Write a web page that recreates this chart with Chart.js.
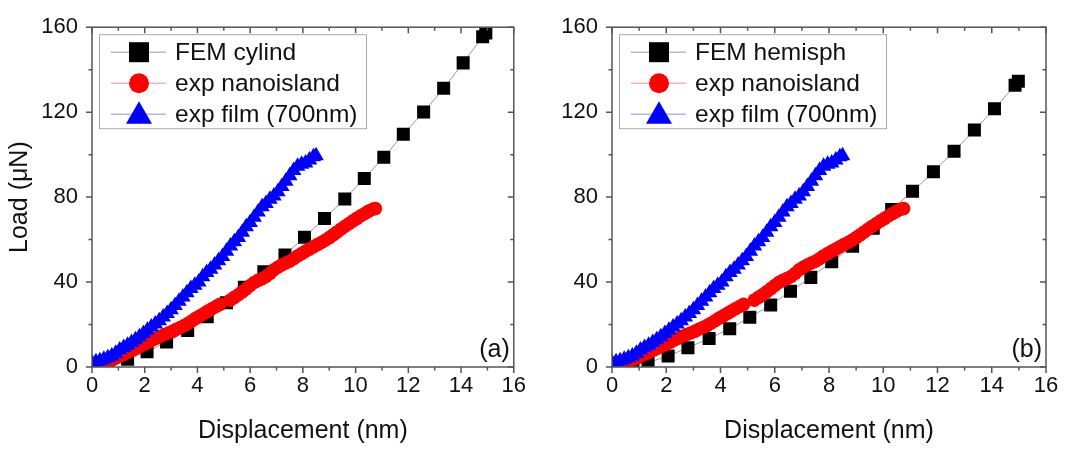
<!DOCTYPE html>
<html>
<head>
<meta charset="utf-8">
<script src="https://cdn.jsdelivr.net/npm/chart.js@4.4.1/dist/chart.umd.min.js"></script>
<style>
  body { margin: 0; background: #fff; }
  #wrap { position: relative; width: 1065px; height: 450px; }
  canvas { position: absolute; top: 0; }
</style>
</head>
<body>
<div id="wrap">
  <canvas id="panelA" width="532" height="450" style="left:0"></canvas>
  <canvas id="panelB" width="533" height="450" style="left:532px"></canvas>
</div>
<script>
// FEM, cylindrical indenter (panel a)
const femCylX = [0.6, 1.35, 2.09, 2.83, 3.63, 4.37, 5.10, 5.78, 6.52, 7.32, 8.06, 8.82, 9.59, 10.33, 11.07, 11.81, 12.58, 13.34, 14.08, 14.82, 14.94];
const femCylY = [0, 3.7, 7.2, 11.8, 17.2, 23.7, 30.3, 37.6, 44.9, 52.7, 61.1, 69.9, 79.1, 88.8, 98.8, 109.6, 120.1, 131.2, 143.2, 155.5, 157.3];

// FEM, hemispherical indenter (panel b)
const femHemX = [0.77, 1.33, 2.07, 2.80, 3.58, 4.34, 5.08, 5.85, 6.58, 7.33, 8.10, 8.87, 9.63, 10.31, 11.08, 11.85, 12.61, 13.36, 14.10, 14.86, 14.98];
const femHemY = [0.6, 2.1, 5.2, 9.1, 13.4, 18.0, 23.4, 29.2, 35.7, 42.2, 49.6, 56.9, 65.3, 74.2, 82.7, 91.9, 101.6, 111.6, 121.6, 132.7, 134.5];

// experiment, nanoisland (both panels)
const nanoX = [0.05, 0.2, 0.35, 0.5, 0.65, 0.8, 0.95, 1.1, 1.25, 1.4, 1.55, 1.7, 1.85, 2.0, 2.15, 2.3, 2.45, 2.6, 2.75, 2.9,
  3.05, 3.2, 3.35, 3.5, 3.65, 3.8, 3.95, 4.1, 4.25, 4.4, 4.55, 4.7, 4.85, 5.25, 5.4, 5.55, 5.7, 5.85, 6.0, 6.15,
  6.3, 6.45, 6.6, 6.75, 6.9, 7.05, 7.2, 7.35, 7.5, 7.65, 7.8, 7.95, 8.1, 8.25, 8.4, 8.55, 8.7, 8.85, 9.0, 9.15,
  9.3, 9.45, 9.6, 9.75, 9.9, 10.05, 10.2, 10.35, 10.5, 10.65, 10.75];
const nanoY = [1.5, 2.0, 2.3, 2.6, 3.0, 3.6, 4.5, 5.4, 6.3, 7.2, 8.0, 9.0, 9.8, 10.7, 11.7, 12.7, 13.6, 14.5, 15.3, 16.0,
  16.8, 17.8, 18.6, 19.5, 20.6, 21.8, 23.0, 24.1, 25.2, 26.3, 27.4, 28.5, 29.5, 31.5, 32.8, 34.0, 35.4, 36.8, 38.4, 39.8,
  40.8, 41.6, 42.6, 44.0, 45.8, 47.0, 48.0, 49.0, 49.8, 51.0, 52.3, 53.4, 54.5, 55.5, 56.6, 57.6, 58.6, 59.7, 60.9, 62.2,
  63.6, 65.0, 66.3, 67.6, 68.8, 70.0, 71.2, 72.3, 73.4, 74.3, 74.6];

// experiment, 700 nm film (both panels)
const filmX = [0.0, 0.15, 0.3, 0.45, 0.6, 0.75, 0.9, 1.05, 1.2, 1.35, 1.5, 1.65, 1.8, 1.95, 2.1, 2.25, 2.4, 2.55, 2.7, 2.85,
  3.0, 3.15, 3.3, 3.45, 3.6, 3.75, 3.9, 4.05, 4.2, 4.35, 4.5, 4.65, 4.8, 4.95, 5.1, 5.25, 5.4, 5.55, 5.7, 5.85,
  6.0, 6.15, 6.3, 6.45, 6.6, 6.75, 6.9, 7.05, 7.2, 7.35, 7.5, 7.65, 7.8, 7.95, 8.1, 8.25, 8.4, 8.5];
const filmY = [2.0, 2.5, 3.0, 3.6, 4.3, 5.2, 6.5, 8.0, 9.2, 10.3, 11.5, 12.8, 14.2, 15.8, 17.3, 18.8, 20.3, 21.8, 23.5, 25.2,
  27.0, 29.0, 31.0, 33.0, 35.0, 37.0, 38.5, 40.0, 42.5, 44.5, 46.0, 48.0, 50.0, 52.0, 54.5, 57.0, 59.0, 61.0, 63.5, 66.0,
  68.0, 70.5, 73.0, 75.5, 77.0, 79.0, 80.5, 82.5, 85.0, 87.5, 90.0, 92.5, 94.5, 95.5, 96.0, 97.5, 99.0, 99.5];

const xMajor = [0, 2, 4, 6, 8, 10, 12, 14, 16];
const xMinor = [1, 3, 5, 7, 9, 11, 13, 15];
const yMajor = [0, 40, 80, 120, 160];
const yMinor = [20, 60, 100, 140];

const FONT = "'Liberation Sans', Arial, sans-serif";
Chart.defaults.font.family = FONT;
Chart.defaults.color = '#111';

function pts(xs, ys) { return xs.map((x, i) => ({ x: x, y: ys[i] })); }

function drawMarker(ctx, style, x, y, r, color) {
  ctx.fillStyle = color;
  ctx.beginPath();
  if (style === 'rect') {
    ctx.rect(x - r, y - r, 2 * r, 2 * r);
  } else if (style === 'circle') {
    ctx.arc(x, y, r, 0, Math.PI * 2);
  } else {
    ctx.moveTo(x, y - r);
    ctx.lineTo(x + r * 0.866, y + r * 0.5);
    ctx.lineTo(x - r * 0.866, y + r * 0.5);
    ctx.closePath();
  }
  ctx.fill();
}

// frame with major/minor ticks, outward on left/bottom, inward on top/right
const frameTicks = {
  id: 'frameTicks',
  afterDatasetsDraw(chart) {
    const { ctx, chartArea: a, scales } = chart;
    ctx.save();
    ctx.strokeStyle = '#555';
    ctx.lineWidth = 1.5;
    ctx.strokeRect(a.left, a.top, a.right - a.left, a.bottom - a.top);
    ctx.beginPath();
    const tx = (v, len) => {
      const p = scales.x.getPixelForValue(v);
      ctx.moveTo(p, a.bottom); ctx.lineTo(p, a.bottom + len);
      ctx.moveTo(p, a.top); ctx.lineTo(p, a.top + len);
    };
    const ty = (v, len) => {
      const p = scales.y.getPixelForValue(v);
      ctx.moveTo(a.left, p); ctx.lineTo(a.left - len, p);
      ctx.moveTo(a.right, p); ctx.lineTo(a.right - len, p);
    };
    xMajor.forEach(v => tx(v, 6));
    xMinor.forEach(v => tx(v, 3.5));
    yMajor.forEach(v => ty(v, 6));
    yMinor.forEach(v => ty(v, 3.5));
    ctx.stroke();
    ctx.restore();
  }
};

// Origin-style legend: short line through a big marker
const boxLegend = {
  id: 'boxLegend',
  afterDraw(chart, args, opts) {
    const { ctx, chartArea: a } = chart;
    const bx = a.left + 7, by = a.top + 7, bw = 267, bh = 94;
    ctx.save();
    ctx.fillStyle = '#fff';
    ctx.fillRect(bx, by, bw, bh);
    ctx.strokeStyle = '#aaa';
    ctx.lineWidth = 1;
    ctx.strokeRect(bx + 0.5, by + 0.5, bw, bh);
    const sizes = { rect: 10, circle: 10, triangle: 15 };
    chart.data.datasets.slice().sort((p, q) => p.legendRow - q.legendRow).forEach((ds, i) => {
      const y = by + 18 + i * 31;
      ctx.strokeStyle = ds.borderColor;
      ctx.lineWidth = 1;
      ctx.beginPath();
      ctx.moveTo(bx + 12, y); ctx.lineTo(bx + 67, y);
      ctx.stroke();
      drawMarker(ctx, ds.pointStyle, bx + 40, ds.pointStyle === 'triangle' ? y + 2 : y, sizes[ds.pointStyle], ds.pointBackgroundColor);
      ctx.fillStyle = '#111';
      ctx.font = '24.5px ' + FONT;
      ctx.textBaseline = 'middle';
      ctx.textAlign = 'left';
      ctx.fillText(ds.label, bx + 76, y + 1);
    });
    ctx.fillStyle = '#111';
    ctx.font = '25px ' + FONT;
    ctx.textAlign = 'right';
    ctx.textBaseline = 'middle';
    ctx.fillText(opts.tag, a.right - 4, a.bottom - 17);
    ctx.restore();
  }
};

function makePanel(id, femLabel, femX, femY, tag, yWidth, rightPad, showYTitle) {
  return new Chart(document.getElementById(id), {
    type: 'scatter',
    data: {
      datasets: [
        {
          label: femLabel, data: pts(femX, femY), legendRow: 0, order: 2,
          showLine: true, borderColor: '#9a9a9a', borderWidth: 1,
          pointStyle: 'rect', pointRadius: 9.2, pointBackgroundColor: '#000', pointBorderWidth: 0
        },
        {
          label: 'exp nanoisland', data: pts(nanoX, nanoY), legendRow: 1, order: 1,
          showLine: true, borderColor: '#ff8c8c', borderWidth: 1,
          pointStyle: 'circle', pointRadius: 6.8, pointBackgroundColor: '#ff0000', pointBorderWidth: 0
        },
        {
          label: 'exp film (700nm)', data: pts(filmX, filmY), legendRow: 2, order: 0,
          showLine: true, borderColor: '#8c8cff', borderWidth: 1,
          pointStyle: 'triangle', pointRadius: 9, pointBackgroundColor: '#0000ff', pointBorderWidth: 0
        }
      ]
    },
    options: {
      responsive: false,
      animation: false,
      devicePixelRatio: 1,
      layout: { padding: { left: 0, right: rightPad, top: 21, bottom: 0 } },
      plugins: { legend: { display: false }, tooltip: { enabled: false }, boxLegend: { tag: tag } },
      scales: {
        x: {
          type: 'linear', min: 0, max: 16,
          grid: { display: false, drawTicks: false, tickLength: 0 },
          border: { display: false },
          ticks: { stepSize: 2, padding: 6, font: { size: 22 }, color: '#111', maxRotation: 0 },
          title: { display: true, text: 'Displacement (nm)', font: { size: 25 }, color: '#111', padding: { top: 0, bottom: 4 } },
          afterFit: s => { s.height = 83; }
        },
        y: {
          type: 'linear', min: 0, max: 160,
          grid: { display: false, drawTicks: false, tickLength: 0 },
          border: { display: false },
          ticks: { stepSize: 40, padding: 14, font: { size: 22 }, color: '#111' },
          title: { display: showYTitle, text: 'Load (\u03bcN)', font: { size: 25 }, color: '#111', padding: { top: 5, bottom: 0 } },
          afterFit: s => { s.width = yWidth; }
        }
      }
    },
    plugins: [frameTicks, boxLegend]
  });
}

makePanel('panelA', 'FEM cylind', femCylX, femCylY, '(a)', 92, 7, true);
makePanel('panelB', 'FEM hemisph', femHemX, femHemY, '(b)', 80, 19, false);
</script>
</body>
</html>
